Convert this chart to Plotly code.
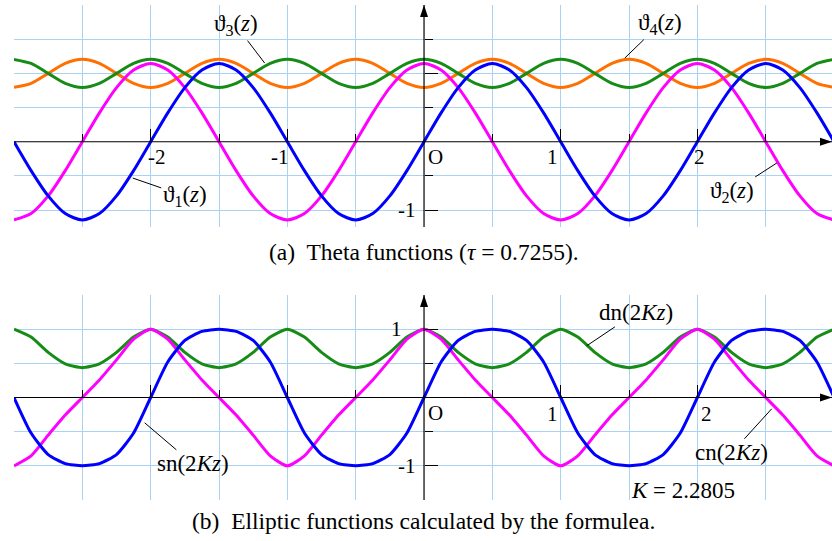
import plotly.graph_objects as go

# ---- data: sample points in z (step 1/8) ----
Z = [-3.0, -2.875, -2.75, -2.625, -2.5, -2.375, -2.25, -2.125,
     -2.0, -1.875, -1.75, -1.625, -1.5, -1.375, -1.25, -1.125,
     -1.0, -0.875, -0.75, -0.625, -0.5, -0.375, -0.25, -0.125,
     0.0, 0.125, 0.25, 0.375, 0.5, 0.625, 0.75, 0.875,
     1.0, 1.125, 1.25, 1.375, 1.5, 1.625, 1.75, 1.875,
     2.0, 2.125, 2.25, 2.375, 2.5, 2.625, 2.75, 2.875, 3.0]

THETA1 = [0, -0.422, -0.792, -1.050, -1.143, -1.050, -0.792, -0.422,
          0, 0.422, 0.792, 1.050, 1.143, 1.050, 0.792, 0.422,
          0, -0.422, -0.792, -1.050, -1.143, -1.050, -0.792, -0.422,
          0, 0.422, 0.792, 1.050, 1.143, 1.050, 0.792, 0.422,
          0, -0.422, -0.792, -1.050, -1.143, -1.050, -0.792, -0.422,
          0, 0.422, 0.792, 1.050, 1.143, 1.050, 0.792, 0.422, 0]

THETA2 = [-1.143, -1.050, -0.792, -0.422, 0, 0.422, 0.792, 1.050,
          1.143, 1.050, 0.792, 0.422, 0, -0.422, -0.792, -1.050,
          -1.143, -1.050, -0.792, -0.422, 0, 0.422, 0.792, 1.050,
          1.143, 1.050, 0.792, 0.422, 0, -0.422, -0.792, -1.050,
          -1.143, -1.050, -0.792, -0.422, 0, 0.422, 0.792, 1.050,
          1.143, 1.050, 0.792, 0.422, 0, -0.422, -0.792, -1.050, -1.143]

THETA3 = [1.205, 1.145, 1.000, 0.855, 0.795, 0.855, 1.000, 1.145,
          1.205, 1.145, 1.000, 0.855, 0.795, 0.855, 1.000, 1.145,
          1.205, 1.145, 1.000, 0.855, 0.795, 0.855, 1.000, 1.145,
          1.205, 1.145, 1.000, 0.855, 0.795, 0.855, 1.000, 1.145,
          1.205, 1.145, 1.000, 0.855, 0.795, 0.855, 1.000, 1.145,
          1.205, 1.145, 1.000, 0.855, 0.795, 0.855, 1.000, 1.145, 1.205]

THETA4 = [0.795, 0.855, 1.000, 1.145, 1.205, 1.145, 1.000, 0.855,
          0.795, 0.855, 1.000, 1.145, 1.205, 1.145, 1.000, 0.855,
          0.795, 0.855, 1.000, 1.145, 1.205, 1.145, 1.000, 0.855,
          0.795, 0.855, 1.000, 1.145, 1.205, 1.145, 1.000, 0.855,
          0.795, 0.855, 1.000, 1.145, 1.205, 1.145, 1.000, 0.855,
          0.795, 0.855, 1.000, 1.145, 1.205, 1.145, 1.000, 0.855, 0.795]

SN = [0, -0.520, -0.835, -0.967, -1.000, -0.967, -0.835, -0.520,
      0, 0.520, 0.835, 0.967, 1.000, 0.967, 0.835, 0.520,
      0, -0.520, -0.835, -0.967, -1.000, -0.967, -0.835, -0.520,
      0, 0.520, 0.835, 0.967, 1.000, 0.967, 0.835, 0.520,
      0, -0.520, -0.835, -0.967, -1.000, -0.967, -0.835, -0.520,
      0, 0.520, 0.835, 0.967, 1.000, 0.967, 0.835, 0.520, 0]

CN = [-1.000, -0.854, -0.551, -0.257, 0, 0.257, 0.551, 0.854,
      1.000, 0.854, 0.551, 0.257, 0, -0.257, -0.551, -0.854,
      -1.000, -0.854, -0.551, -0.257, 0, 0.257, 0.551, 0.854,
      1.000, 0.854, 0.551, 0.257, 0, -0.257, -0.551, -0.854,
      -1.000, -0.854, -0.551, -0.257, 0, 0.257, 0.551, 0.854,
      1.000, 0.854, 0.551, 0.257, 0, -0.257, -0.551, -0.854, -1.000]

DN = [1.000, 0.884, 0.660, 0.493, 0.436, 0.493, 0.660, 0.884,
      1.000, 0.884, 0.660, 0.493, 0.436, 0.493, 0.660, 0.884,
      1.000, 0.884, 0.660, 0.493, 0.436, 0.493, 0.660, 0.884,
      1.000, 0.884, 0.660, 0.493, 0.436, 0.493, 0.660, 0.884,
      1.000, 0.884, 0.660, 0.493, 0.436, 0.493, 0.660, 0.884,
      1.000, 0.884, 0.660, 0.493, 0.436, 0.493, 0.660, 0.884, 1.000]

# ---- styling ----
FONT = "Liberation Serif"
GRID = "#aad2f5"
BLUE, MAGENTA, GREEN, ORANGE = "#0000ff", "#ff00ff", "#168c16", "#ff7000"
LW = 3

X_RANGE = [-3.0, 2.985]
TOP_Y = [-1.247, 2.0]
BOT_Y = [-1.5, 1.5]
TOP_DOM = [0.5515, 1.0]
BOT_DOM = [0.0, 0.4141]


def frac(v, rng, dom):
    return dom[0] + (v - rng[0]) / (rng[1] - rng[0]) * (dom[1] - dom[0])


fig = go.Figure()

top_series = [(THETA4, ORANGE), (THETA3, GREEN), (THETA2, MAGENTA), (THETA1, BLUE)]
for ys, col in top_series:
    fig.add_trace(go.Scatter(x=Z, y=ys, mode="lines", xaxis="x", yaxis="y",
                             line=dict(color=col, width=LW, shape="spline", smoothing=0.8),
                             hoverinfo="skip"))

bot_series = [(DN, GREEN), (CN, MAGENTA), (SN, BLUE)]
for ys, col in bot_series:
    fig.add_trace(go.Scatter(x=Z, y=ys, mode="lines", xaxis="x2", yaxis="y2",
                             line=dict(color=col, width=LW, shape="spline", smoothing=0.6),
                             hoverinfo="skip"))


def x_axis(pos):
    return dict(domain=[0, 1], range=X_RANGE, anchor="free", position=pos,
                showline=False, zeroline=False, showticklabels=False,
                tickmode="array", tickvals=[-2, -1, 1, 2],
                ticks="inside", ticklen=13, tickwidth=1, tickcolor="black",
                showgrid=True, gridcolor=GRID, gridwidth=1,
                minor=dict(tickmode="array", tickvals=[-2.5, -1.5, -0.5, 0.5, 1.5, 2.5],
                           ticks="inside", ticklen=8, tickwidth=1, tickcolor="black",
                           showgrid=True, gridcolor=GRID, gridwidth=1),
                fixedrange=True)


def y_axis(rng, dom, major, minor):
    return dict(domain=dom, range=rng, anchor="free",
                position=frac(0, X_RANGE, [0, 1]),
                showline=False, zeroline=False, showticklabels=False,
                tickmode="array", tickvals=major,
                ticks="inside", ticklen=13, tickwidth=1, tickcolor="black",
                showgrid=True, gridcolor=GRID, gridwidth=1,
                minor=dict(tickmode="array", tickvals=minor,
                           ticks="inside", ticklen=8, tickwidth=1, tickcolor="black",
                           showgrid=True, gridcolor=GRID, gridwidth=1),
                fixedrange=True)


shapes = []
for xr, yr, yrng in (("x", "y", TOP_Y), ("x2", "y2", BOT_Y)):
    # axis lines
    shapes.append(dict(type="line", xref=xr, yref=yr, x0=X_RANGE[0], x1=X_RANGE[1],
                       y0=0, y1=0, line=dict(color="black", width=1.2)))
    shapes.append(dict(type="line", xref=xr, yref=yr, x0=0, x1=0,
                       y0=yrng[0], y1=yrng[1], line=dict(color="black", width=1.2)))
    # arrow heads
    shapes.append(dict(type="path", xref=xr, yref=yr, xsizemode="pixel", ysizemode="pixel",
                       xanchor=X_RANGE[1], yanchor=0, path="M0,0 L-12,4 L-12,-4 Z",
                       fillcolor="black", line=dict(width=0)))
    shapes.append(dict(type="path", xref=xr, yref=yr, xsizemode="pixel", ysizemode="pixel",
                       xanchor=0, yanchor=yrng[1], path="M0,0 L-4,-12 L4,-12 Z",
                       fillcolor="black", line=dict(width=0)))

TICK_FONT = dict(family=FONT, size=21, color="black")
LABEL_FONT = dict(family=FONT, size=23, color="black")
CAPTION_FONT = dict(family=FONT, size=23.5, color="black")

annotations = []
# tick labels
top_ticks = [("-2", -1.952, -0.224), ("-1", -1.056, -0.224), ("1", 0.942, -0.224),
             ("2", 2.017, -0.224), ("O", 0.086, -0.224), ("-1", -0.127, -1.0)]
for t, x, y in top_ticks:
    annotations.append(dict(text=t, x=x, y=y, xref="x", yref="y", showarrow=False,
                            font=TICK_FONT))
bot_ticks = [("O", 0.086, -0.224), ("1", 0.942, -0.238), ("2", 2.068, -0.238),
             ("1", -0.2, 1.0), ("-1", -0.127, -1.0)]
for t, x, y in bot_ticks:
    annotations.append(dict(text=t, x=x, y=y, xref="x2", yref="y2", showarrow=False,
                            font=TICK_FONT))

# curve labels with leader lines: (text, point x, point y, label x, label y)
top_labels = [("ϑ<sub>3</sub>(<i>z</i>)", -1.166, 1.151, -1.378, 1.706),
              ("ϑ<sub>1</sub>(<i>z</i>)", -2.131, -0.531, -1.751, -0.794),
              ("ϑ<sub>4</sub>(<i>z</i>)", 1.469, 1.224, 1.725, 1.720),
              ("ϑ<sub>2</sub>(<i>z</i>)", 2.581, -0.311, 2.251, -0.737)]
for t, px, py, lx, ly in top_labels:
    annotations.append(dict(text=t, x=px, y=py, ax=lx, ay=ly, xref="x", yref="y",
                            axref="x", ayref="y", showarrow=True, arrowhead=0,
                            arrowwidth=1, arrowcolor="black", font=LABEL_FONT))
bot_labels = [("sn(2<i>Kz</i>)", -2.044, -0.370, -1.692, -0.970),
              ("dn(2<i>Kz</i>)", 1.190, 0.756, 1.549, 1.239),
              ("cn(2<i>Kz</i>)", 2.544, -0.165, 2.251, -0.809)]
for t, px, py, lx, ly in bot_labels:
    annotations.append(dict(text=t, x=px, y=py, ax=lx, ay=ly, xref="x2", yref="y2",
                            axref="x2", ayref="y2", showarrow=True, arrowhead=0,
                            arrowwidth=1, arrowcolor="black", font=LABEL_FONT))

annotations.append(dict(text="<i>K</i> = 2.2805", x=1.892, y=-1.365, xref="x2", yref="y2",
                        showarrow=False, font=LABEL_FONT))

# captions
annotations.append(dict(text="(a)  Theta functions (<i>τ</i> = 0.7255).", x=0.5012, y=0.501,
                        xref="paper", yref="paper", xanchor="center", yanchor="middle",
                        showarrow=False, font=CAPTION_FONT))
annotations.append(dict(text="(b)  Elliptic functions calculated by the formulea.",
                        x=0.5012, y=-0.0424, xref="paper", yref="paper",
                        xanchor="center", yanchor="middle", showarrow=False,
                        font=CAPTION_FONT))

fig.update_layout(
    width=832, height=541,
    margin=dict(l=14, r=0, t=5, b=41),
    paper_bgcolor="white", plot_bgcolor="white",
    showlegend=False,
    xaxis=x_axis(frac(0, TOP_Y, TOP_DOM)),
    yaxis=y_axis(TOP_Y, TOP_DOM, [-1, 1], [-0.5, 0.5, 1.5]),
    xaxis2=x_axis(frac(0, BOT_Y, BOT_DOM)),
    yaxis2=y_axis(BOT_Y, BOT_DOM, [-1, 1], [-0.5, 0.5]),
    shapes=shapes,
    annotations=annotations,
    font=dict(family=FONT, color="black"),
)

fig.write_html("out.html", config={"displayModeBar": False})
